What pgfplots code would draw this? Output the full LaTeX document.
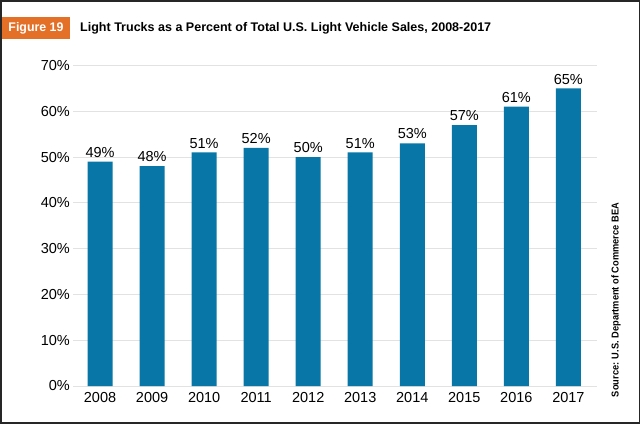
\documentclass[border=0pt]{standalone}
\usepackage{pgfplots}
\pgfplotsset{compat=1.18}
\usepackage{fontspec}
\setmainfont{Liberation Sans}
\definecolor{barblue}{RGB}{8,119,168}
\definecolor{figorange}{RGB}{228,111,39}
\definecolor{gridgray}{RGB}{226,226,226}
\begin{document}
\begin{tikzpicture}[x=1pt,y=1pt]
\path[use as bounding box] (0,0) rectangle (641,424);
\fill[white] (0,0) rectangle (641,424);
\draw[line width=1.4pt, black!85] (0.9,0.9) rectangle (639.6,423.1);
\fill[figorange] (2,385) rectangle (70,407);
\node[inner sep=0pt, text=white] at (36,396) {\resizebox{55pt}{\height}{\fontsize{12.5}{14}\selectfont\bfseries Figure 19}};
\node[inner sep=0pt, anchor=west] at (80,395.5) {\resizebox{411pt}{\height}{\fontsize{12.5}{14}\selectfont\bfseries Light Trucks as a Percent of Total U.S. Light Vehicle Sales, 2008-2017}};
\node[inner sep=0pt, rotate=90] at (616,124) {\resizebox{194pt}{\height}{\fontsize{10}{12}\selectfont\bfseries Source: U.S. Department of Commerce BEA}};
\begin{axis}[
  at={(73pt,38pt)}, anchor=south west,
  scale only axis,
  width=524pt, height=320.5pt,
  ybar, bar width=25pt,
  xmin=-0.52, xmax=9.55, ymin=0, ymax=70,
  axis line style={draw=none},
  major tick length=0pt,
  ymajorgrids, grid style={gridgray, line width=1pt},
  ytick={0,10,20,30,40,50,60,70},
  yticklabel={\pgfmathprintnumber{\tick}\%},
  xtick={0,1,2,3,4,5,6,7,8,9},
  xticklabels={2008,2009,2010,2011,2012,2013,2014,2015,2016,2017},
  /pgf/number format/assume math mode=true,
  tick label style={font=\fontsize{14.5}{17}\selectfont, inner sep=0pt},
  yticklabel style={anchor=east, xshift=-3pt},
  xticklabel style={anchor=north, yshift=-6.5pt},
  nodes near coords={\pgfmathprintnumber{\pgfplotspointmeta}\%},
  nodes near coords style={font=\fontsize{14.5}{17}\selectfont, inner sep=0pt, anchor=south, yshift=4pt, text=black},
  clip=false,
]
\addplot[fill=barblue, draw=none] coordinates {
(0,49) (1,48) (2,51) (3,52) (4,50) (5,51) (6,53) (7,57) (8,61) (9,65)
};
\end{axis}
\end{tikzpicture}
\end{document}
